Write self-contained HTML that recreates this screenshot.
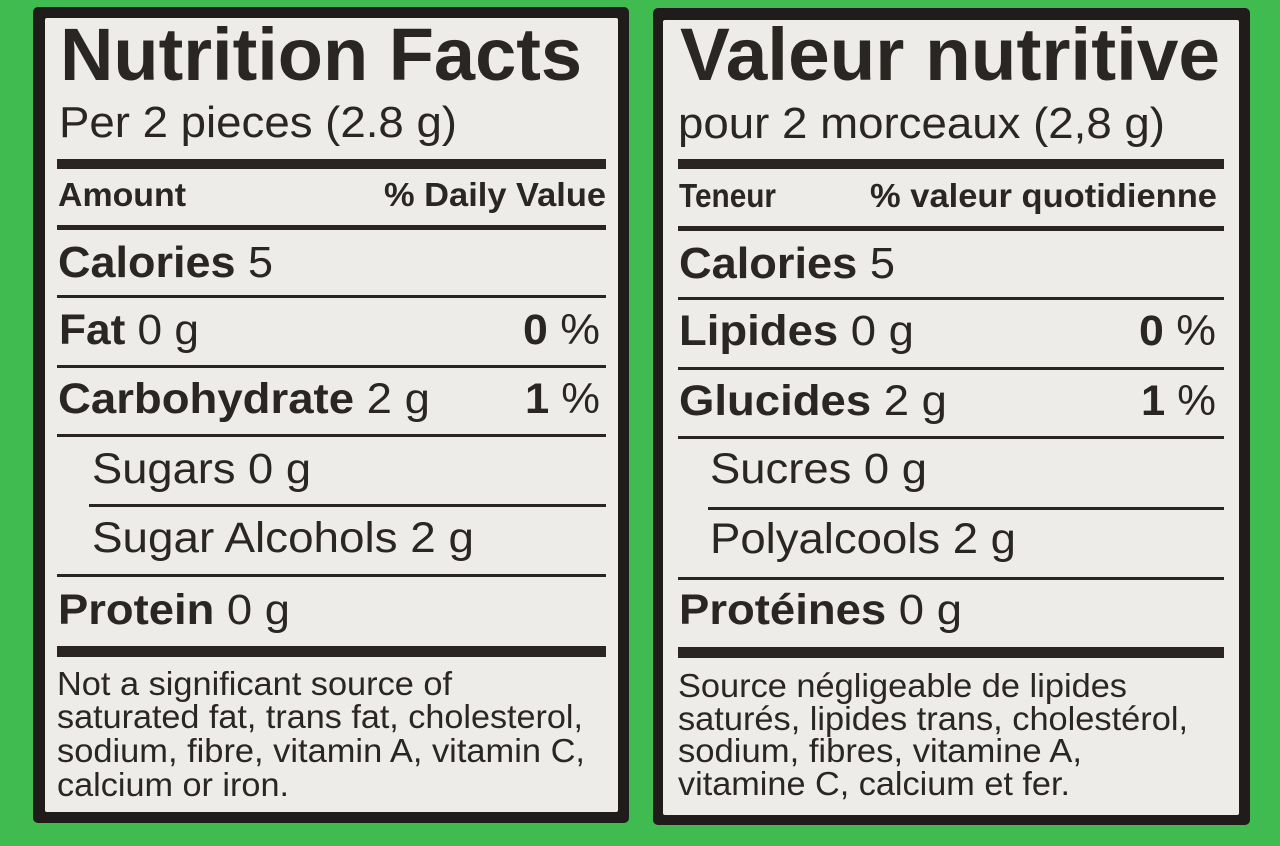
<!DOCTYPE html>
<html>
<head>
<meta charset="utf-8">
<style>
  html,body{margin:0;padding:0;background:#3fbb4f;}
  svg{display:block;}
  text{font-family:"Liberation Sans", Arial, sans-serif;fill:#2a2623;}
  .b{font-weight:bold;}
</style>
</head>
<body>
<svg width="1280" height="846" viewBox="0 0 1280 846" xmlns="http://www.w3.org/2000/svg">
  <rect x="0" y="0" width="1280" height="846" fill="#3fbb4f"/>

  <!-- LEFT PANEL -->
  <rect x="33" y="7" width="596" height="816" rx="5" fill="#1f1c1b"/>
  <rect x="45" y="18" width="573" height="794" rx="2" fill="#eeece8"/>

  <text class="b" x="60" y="80" font-size="74" textLength="522" lengthAdjust="spacingAndGlyphs">Nutrition Facts</text>
  <text x="59" y="137" font-size="44" textLength="398" lengthAdjust="spacingAndGlyphs">Per 2 pieces (2.8 g)</text>
  <rect x="57" y="159" width="549" height="10" fill="#2a2522"/>
  <text class="b" x="58" y="206" font-size="33" textLength="128" lengthAdjust="spacingAndGlyphs">Amount</text>
  <text class="b" x="606" y="206" font-size="33" text-anchor="end" textLength="222" lengthAdjust="spacingAndGlyphs">% Daily Value</text>
  <rect x="57" y="225" width="549" height="5" fill="#2a2522"/>
  <text x="58" y="277" font-size="44" textLength="215" lengthAdjust="spacingAndGlyphs"><tspan class="b">Calories</tspan> 5</text>
  <rect x="57" y="295" width="549" height="3" fill="#2a2522"/>
  <text x="59" y="344" font-size="43" textLength="140" lengthAdjust="spacingAndGlyphs"><tspan class="b">Fat</tspan> 0 g</text>
  <text x="523" y="344" font-size="43" textLength="77" lengthAdjust="spacingAndGlyphs"><tspan class="b">0</tspan> %</text>
  <rect x="57" y="365" width="549" height="3" fill="#2a2522"/>
  <text x="58" y="413" font-size="43" textLength="372" lengthAdjust="spacingAndGlyphs"><tspan class="b">Carbohydrate</tspan> 2 g</text>
  <text x="525" y="413" font-size="43" textLength="75" lengthAdjust="spacingAndGlyphs"><tspan class="b">1</tspan> %</text>
  <rect x="57" y="434" width="549" height="3" fill="#2a2522"/>
  <text x="92" y="483" font-size="43" textLength="219" lengthAdjust="spacingAndGlyphs">Sugars 0 g</text>
  <rect x="89" y="504" width="517" height="3" fill="#2a2522"/>
  <text x="92" y="552" font-size="43" textLength="382" lengthAdjust="spacingAndGlyphs">Sugar Alcohols 2 g</text>
  <rect x="57" y="574" width="549" height="3" fill="#2a2522"/>
  <text x="58" y="624" font-size="43" textLength="232" lengthAdjust="spacingAndGlyphs"><tspan class="b">Protein</tspan> 0 g</text>
  <rect x="57" y="646" width="549" height="11" fill="#2a2522"/>
  <text x="57" y="695" font-size="33" textLength="395" lengthAdjust="spacingAndGlyphs">Not a significant source of</text>
  <text x="57" y="728" font-size="33" textLength="526" lengthAdjust="spacingAndGlyphs">saturated fat, trans fat, cholesterol,</text>
  <text x="57" y="762" font-size="33" textLength="528" lengthAdjust="spacingAndGlyphs">sodium, fibre, vitamin A, vitamin C,</text>
  <text x="57" y="796" font-size="33" textLength="232" lengthAdjust="spacingAndGlyphs">calcium or iron.</text>

  <!-- RIGHT PANEL -->
  <rect x="653" y="8" width="597" height="817" rx="5" fill="#1f1c1b"/>
  <rect x="663" y="20" width="576" height="795" rx="2" fill="#eeece8"/>

  <text class="b" x="680" y="80" font-size="74" textLength="540" lengthAdjust="spacingAndGlyphs">Valeur nutritive</text>
  <text x="678" y="138" font-size="44" textLength="487" lengthAdjust="spacingAndGlyphs">pour 2 morceaux (2,8 g)</text>
  <rect x="678" y="159" width="546" height="10" fill="#2a2522"/>
  <text class="b" x="679" y="207" font-size="33" textLength="97" lengthAdjust="spacingAndGlyphs">Teneur</text>
  <text class="b" x="1217" y="207" font-size="33" text-anchor="end" textLength="347" lengthAdjust="spacingAndGlyphs">% valeur quotidienne</text>
  <rect x="678" y="226" width="546" height="5" fill="#2a2522"/>
  <text x="679" y="278" font-size="44" textLength="216" lengthAdjust="spacingAndGlyphs"><tspan class="b">Calories</tspan> 5</text>
  <rect x="678" y="297" width="546" height="3" fill="#2a2522"/>
  <text x="679" y="345" font-size="43" textLength="235" lengthAdjust="spacingAndGlyphs"><tspan class="b">Lipides</tspan> 0 g</text>
  <text x="1139" y="345" font-size="43" textLength="77" lengthAdjust="spacingAndGlyphs"><tspan class="b">0</tspan> %</text>
  <rect x="678" y="367" width="546" height="3" fill="#2a2522"/>
  <text x="679" y="415" font-size="43" textLength="268" lengthAdjust="spacingAndGlyphs"><tspan class="b">Glucides</tspan> 2 g</text>
  <text x="1141" y="415" font-size="43" textLength="75" lengthAdjust="spacingAndGlyphs"><tspan class="b">1</tspan> %</text>
  <rect x="678" y="436" width="546" height="3" fill="#2a2522"/>
  <text x="710" y="483" font-size="43" textLength="217" lengthAdjust="spacingAndGlyphs">Sucres 0 g</text>
  <rect x="708" y="507" width="516" height="3" fill="#2a2522"/>
  <text x="710" y="553" font-size="43" textLength="306" lengthAdjust="spacingAndGlyphs">Polyalcools 2 g</text>
  <rect x="678" y="577" width="546" height="3" fill="#2a2522"/>
  <text x="679" y="624" font-size="43" textLength="283" lengthAdjust="spacingAndGlyphs"><tspan class="b">Protéines</tspan> 0 g</text>
  <rect x="678" y="647" width="546" height="11" fill="#2a2522"/>
  <text x="678" y="697" font-size="33" textLength="449" lengthAdjust="spacingAndGlyphs">Source négligeable de lipides</text>
  <text x="678" y="730" font-size="33" textLength="510" lengthAdjust="spacingAndGlyphs">saturés, lipides trans, cholestérol,</text>
  <text x="678" y="762" font-size="33" textLength="404" lengthAdjust="spacingAndGlyphs">sodium, fibres, vitamine A,</text>
  <text x="678" y="795" font-size="33" textLength="392" lengthAdjust="spacingAndGlyphs">vitamine C, calcium et fer.</text>
</svg>
</body>
</html>
